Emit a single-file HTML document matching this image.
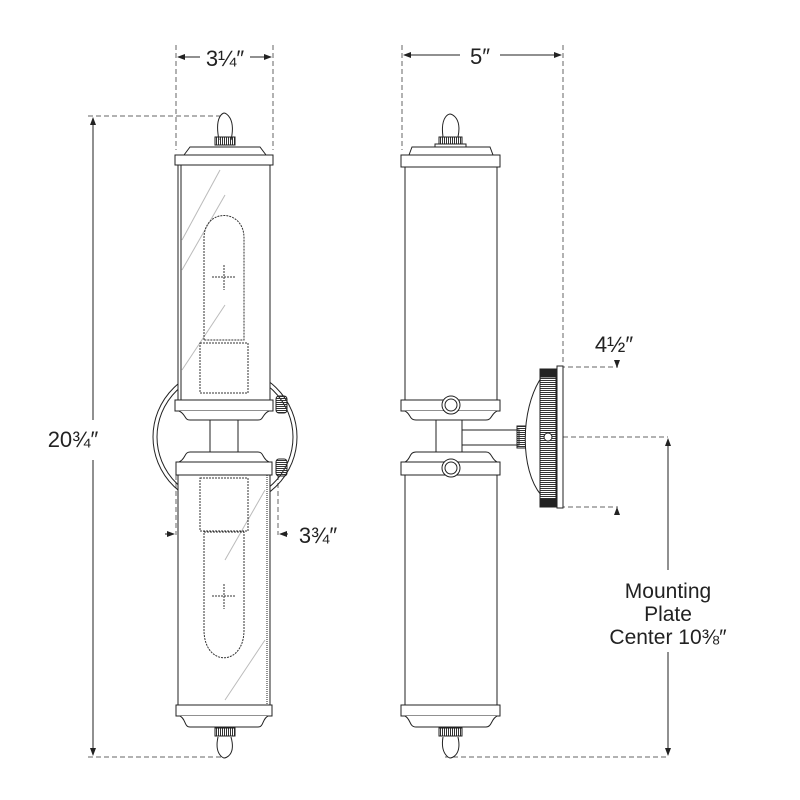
<!DOCTYPE html>
<html><head><meta charset="utf-8"><style>
html,body{margin:0;padding:0;background:#fff;}
svg{display:block;}
text{font-family:"Liberation Sans",sans-serif;fill:#222;}
</style></head><body>
<svg width="800" height="800" viewBox="0 0 800 800" xmlns="http://www.w3.org/2000/svg">
<defs>
<marker id="ar" markerWidth="8" markerHeight="6" refX="7" refY="3" orient="auto"><path d="M0,0 L8,3 L0,6z" fill="#222"/></marker>
<pattern id="kn" width="2" height="4" patternUnits="userSpaceOnUse"><rect width="1" height="4" fill="#333"/></pattern>
<pattern id="knh" width="4" height="2" patternUnits="userSpaceOnUse"><rect width="4" height="1" fill="#333"/></pattern>
</defs>
<g fill="none" stroke="#222" stroke-width="1">
<g stroke="#666" stroke-dasharray="5,3">
<line x1="176" y1="45" x2="176" y2="150"/><line x1="273" y1="45" x2="273" y2="150"/>
<line x1="402" y1="45" x2="402" y2="150"/><line x1="563" y1="45" x2="563" y2="365"/>
<line x1="88" y1="116" x2="225" y2="116"/><line x1="88" y1="757" x2="225" y2="757"/>
<line x1="176" y1="475" x2="176" y2="535"/><line x1="278" y1="475" x2="278" y2="535"/>
<line x1="560" y1="367" x2="618" y2="367"/><line x1="560" y1="507" x2="618" y2="507"/>
<line x1="563" y1="437" x2="668" y2="437"/><line x1="445" y1="757" x2="668" y2="757"/>
</g>
<line x1="200" y1="57" x2="178" y2="57" marker-end="url(#ar)"/><line x1="250" y1="57" x2="271" y2="57" marker-end="url(#ar)"/>
<line x1="460" y1="55" x2="404" y2="55" marker-end="url(#ar)"/><line x1="500" y1="55" x2="561" y2="55" marker-end="url(#ar)"/>
<line x1="93" y1="420" x2="93" y2="118" marker-end="url(#ar)"/><line x1="93" y1="460" x2="93" y2="755" marker-end="url(#ar)"/>
<line x1="668" y1="570" x2="668" y2="439" marker-end="url(#ar)"/><line x1="668" y1="652" x2="668" y2="755" marker-end="url(#ar)"/>
<line x1="165" y1="534" x2="174" y2="534" marker-end="url(#ar)"/><line x1="288" y1="534" x2="280" y2="534" marker-end="url(#ar)"/>
<line x1="617" y1="360" x2="617" y2="367" marker-end="url(#ar)"/><line x1="617" y1="515" x2="617" y2="508" marker-end="url(#ar)"/>

<!-- LEFT fixture -->
<ellipse cx="225" cy="437" rx="72" ry="70"/><ellipse cx="225" cy="437" rx="68" ry="66"/>
<rect x="178" y="165" width="92" height="235" fill="#fff"/><line x1="181" y1="165" x2="181" y2="400"/>
<rect x="178" y="475" width="92" height="230" fill="#fff"/><line x1="267" y1="475" x2="267" y2="705" stroke-dasharray="1,1"/>
<g stroke="#bbb"><line x1="182" y1="240" x2="220" y2="170"/><line x1="182" y1="270" x2="225" y2="195"/><line x1="182" y1="370" x2="225" y2="305"/><line x1="225" y1="560" x2="265" y2="490"/><line x1="225" y1="700" x2="265" y2="640"/></g>
<path d="M219,140 C214,115 224,113 224,113 C226,113 236,118 231,140" fill="#fff"/>
<rect x="215" y="137" width="20" height="8" fill="url(#kn)"/>
<path d="M184,155 L190,147 L260,147 L266,155 Z" fill="#fff"/>
<rect x="175" y="155" width="98" height="10" fill="#fff"/>
<g stroke="#333" stroke-dasharray="2,1">
<path d="M204,340 L204,238 C204,208 244,208 244,238 L244,340 Z"/>
<rect x="200" y="343" width="48" height="50"/>
<path d="M204,532 L244,532 L244,630 C244,667 204,667 204,630 Z"/>
<rect x="200" y="478" width="48" height="53"/>
<line x1="212" y1="277" x2="236" y2="277"/><line x1="224" y1="265" x2="224" y2="290"/>
<line x1="212" y1="596" x2="236" y2="596"/><line x1="224" y1="584" x2="224" y2="609"/>
</g>
<rect x="175" y="400" width="98" height="11" fill="#fff"/>
<path d="M179,411 C186,414 184,420 190,420 L258,420 C264,420 262,414 269,411" fill="#fff"/>
<rect x="210" y="420" width="28" height="32" fill="#fff"/>
<path d="M190,452 L258,452 C264,452 262,459 269,462 L179,462 C186,459 184,452 190,452Z" fill="#fff"/>
<rect x="176" y="462" width="96" height="13" fill="#fff"/>
<rect x="276" y="396" width="11" height="17" rx="3" fill="url(#knh)"/><rect x="276" y="459" width="11" height="17" rx="3" fill="url(#knh)"/>
<rect x="176" y="705" width="96" height="11" fill="#fff"/>
<path d="M180,716 C186,719 184,727 190,727 L258,727 C264,727 262,719 268,716" fill="#fff"/>
<rect x="215" y="728" width="20" height="8" fill="url(#kn)"/>
<path d="M218,737 C214,755 224,758 224,758 C226,758 236,755 231,737" fill="#fff"/>

<!-- RIGHT fixture -->
<rect x="405" y="167" width="92" height="233" fill="#fff"/>
<rect x="405" y="475" width="92" height="230" fill="#fff"/>
<path d="M443,137 C440,115 450,114 450,114 C452,114 462,118 458,137" fill="#fff"/>
<rect x="439" y="137" width="23" height="8" fill="url(#kn)"/>
<rect x="435" y="144" width="31" height="3" fill="#fff"/>
<path d="M409,155 L412,147 L490,147 L493,155 Z" fill="#fff"/>
<rect x="401" y="155" width="99" height="12" fill="#fff"/>
<rect x="401" y="400" width="99" height="11" fill="#fff"/>
<path d="M405,411 C411,414 409,420 416,420 L486,420 C492,420 491,414 497,411" fill="#fff"/>
<rect x="436" y="420" width="26" height="32" fill="#fff"/>
<rect x="462" y="430" width="57" height="15" fill="#fff"/>
<rect x="517" y="426" width="9" height="22" fill="url(#knh)"/>
<path d="M541,378 C520,410 520,470 541,495" fill="#fff"/>
<rect x="540" y="369" width="16" height="138" fill="url(#knh)"/>
<rect x="540" y="369" width="16" height="8" fill="#222"/><rect x="540" y="499" width="16" height="8" fill="#222"/>
<circle cx="548" cy="437" r="4" fill="#fff"/>
<rect x="557" y="366" width="6" height="142" fill="#fff"/>
<path d="M416,452 L486,452 C492,452 491,459 497,462 L405,462 C411,459 409,452 416,452Z" fill="#fff"/>
<rect x="401" y="462" width="99" height="13" fill="#fff"/>
<circle cx="451" cy="405" r="9" fill="#fff"/><circle cx="451" cy="405" r="6"/>
<circle cx="451" cy="468" r="9" fill="#fff"/><circle cx="451" cy="468" r="6"/>
<rect x="401" y="705" width="99" height="11" fill="#fff"/>
<path d="M405,716 C411,719 409,727 416,727 L486,727 C492,727 491,719 497,716" fill="#fff"/>
<rect x="439" y="728" width="23" height="8" fill="url(#kn)"/>
<path d="M443,737 C440,755 450,758 450,758 C452,758 462,755 458,737" fill="#fff"/>
</g>
<text x="225" y="66" font-size="22" text-anchor="middle">3¼″</text>
<text x="480" y="64" font-size="22" text-anchor="middle">5″</text>
<text x="73" y="447" font-size="22" text-anchor="middle">20¾″</text>
<text x="318" y="543" font-size="22" text-anchor="middle">3¾″</text>
<text x="614" y="352" font-size="22" text-anchor="middle">4½″</text>
<text x="668" y="598" font-size="21" text-anchor="middle">Mounting</text>
<text x="668" y="621" font-size="21" text-anchor="middle">Plate</text>
<text x="668" y="644" font-size="21" text-anchor="middle">Center 10⅜″</text>
</svg>
</body></html>
